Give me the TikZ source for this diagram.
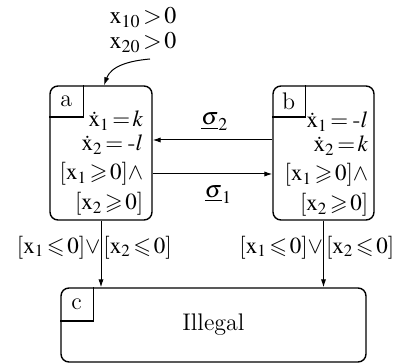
\documentclass[tikz,border=0pt]{standalone}
\usepackage{mathptmx}
\usepackage{amssymb}
\usetikzlibrary{arrows.meta,positioning,calc}
\newcommand{\vx}{\mathrm{x}}

\begin{document}
\begin{tikzpicture}[x=0.5pt, y=0.5pt,
      font=\fontsize{12}{12}\selectfont,
      state/.style={draw, rounded corners=4pt, line width=0.7pt, minimum width=51pt, minimum height=67pt},
      tagbox/.style={anchor=north west, inner sep=0pt, minimum width=16.5pt, minimum height=15.5pt},
      eqs/.style={anchor=north east, align=right, inner sep=0pt, font=\fontsize{11.5}{12}\selectfont},
      guard/.style={inner sep=0pt, font=\fontsize{11.5}{12}\selectfont},
      arr/.style={-{Latex[length=4pt,width=2.6pt]}, line width=0.5pt}]
    \useasboundingbox (0,0) rectangle (397,363);
    % states
    \node[state] (a) at (101,210) {};
    \node[state, minimum width=50.5pt] (b) at (323.5,210) {};
    \node[state, minimum width=152.5pt, minimum height=37pt] (c) at (213.5,38) {Illegal};
    % corner tags
    \node[tagbox] (ta) at (a.north west) {a};
    \node[tagbox, minimum width=16pt] (tb) at (b.north west) {b};
    \node[tagbox, minimum width=16pt, minimum height=16.5pt] (tc) at (c.north west) {c};
    \foreach \t in {ta,tb,tc}
      \draw[line width=0.6pt] (\t.north east) -- (\t.south east) -- (\t.south west);
    % invariants
    \node[eqs] (ia) at ($(a.north east)+(-9,-25)$)
      {$\dot{\vx}_1\!=\!k$\\ $\dot{\vx}_2\!=\mbox{-}l$\\[2.5pt] $[\vx_1\!\geqslant\! 0]\wedge$\\[3pt] $[\vx_2\!\geqslant\! 0]$};
    \node[eqs] (ib) at ($(b.north east)+(-6,-26)$)
      {$\dot{\vx}_1\!=\mbox{-}l$\\ $\dot{\vx}_2\!=\!k$\\[2.5pt] $[\vx_1\!\geqslant\! 0]\wedge$\\[3pt] $[\vx_2\!\geqslant\! 0]$};
    % initial condition
    \node[align=center, inner sep=0pt] (init) at (143,333) {$\vx_{10}\!>\!0$\\[0.5pt] $\vx_{20}\!>\!0$};
    \coordinate (start) at (150,304);
    \draw[arr] (start) to[out=185,in=70] ([xshift=1.5pt]a.north);
    % transitions
    \draw[arr] ([yshift=6.5pt]b.west) -- node[pos=0.48, above=1pt] {$\underline{\sigma}_2$} ([yshift=6.5pt]a.east);
    \draw[arr] ([yshift=-10.5pt]a.east) -- node[pos=0.55, below=2pt] {$\underline{\sigma}_1$} ([yshift=-10.5pt]b.east -| b.west);
    \draw[arr] (a.south) -- node[guard, pos=0.4, left] {$[\vx_1\!\leqslant\! 0]\vee$}
      node[guard, pos=0.4, right=1pt] {$[\vx_2\!\leqslant\! 0]$} (a.south |- c.north);
    \draw[arr] (b.south) -- node[guard, pos=0.4, left] {$[\vx_1\!\leqslant\! 0]\vee$}
      node[guard, pos=0.4, right=1pt] {$[\vx_2\!\leqslant\! 0]$} (b.south |- c.north);
  \end{tikzpicture}
\end{document}
